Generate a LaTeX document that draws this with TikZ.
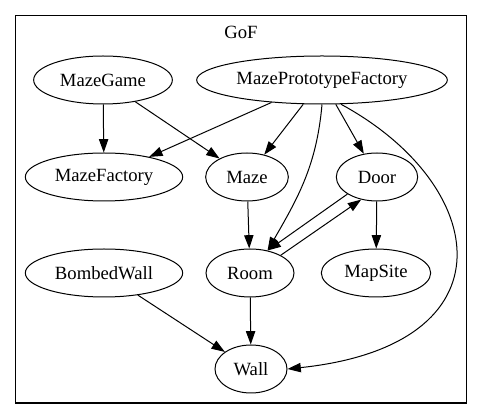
\documentclass[tikz,border=0pt]{standalone}
\usepackage{fontspec}
\setmainfont{Liberation Serif}
\usetikzlibrary{positioning, shapes.geometric, arrows.meta}

\begin{document}
\begin{tikzpicture}[x=0.75pt, y=-0.75pt, cls/.style={draw, ellipse, line width=0.75pt, inner sep=0pt, minimum height=36pt, font=\fontsize{14}{16}\selectfont}, dep/.style={-{Triangle[length=10pt,width=7pt]}, line width=0.75pt}]
	\useasboundingbox (0,0) rectangle (483,420);
	\draw[line width=1pt] (15.5,15.5) rectangle (466.5,403);
	\node[font=\fontsize{14}{16}\selectfont] (gof) at (241,32) {GoF};

	\node[cls, minimum width=104pt] (mazegame) at (103,80) {MazeGame};
	\node[cls, minimum width=188pt] (mpf) at (322,80) {MazePrototypeFactory};
	\node[cls, minimum width=118pt] (mazefactory) at (104,177) {MazeFactory};
	\node[cls, minimum width=62pt] (maze) at (247,177) {Maze};
	\node[cls, minimum width=61pt] (door) at (377,177) {Door};
	\node[cls, minimum width=118pt] (bombedwall) at (104,273) {BombedWall};
	\node[cls, minimum width=66pt] (room) at (250,273) {Room};
	\node[cls, minimum width=82pt] (mapsite) at (376,273) {MapSite};
	\node[cls, minimum width=54pt] (wall) at (251,369) {Wall};

	\draw[dep] (mazegame) -- (mazefactory);
	\draw[dep] (mazegame) -- (maze);
	\draw[dep] (mpf) -- (mazefactory);
	\draw[dep] (mpf) -- (maze);
	\draw[dep] (mpf) -- (door);
	\draw[dep] (mpf.south) to[out=-95, in=60] (room.52);
	\draw[dep] (mpf.-52) .. controls (490,185) and (515,345) .. (wall.east);
	\draw[dep] (maze) -- (room);
	\draw[dep] (door.-150) -- (room.52);
	\draw[dep] (room.30) -- (door.-125);
	\draw[dep] (door) -- (mapsite);
	\draw[dep] (bombedwall) -- (wall);
	\draw[dep] (room) -- (wall);
\end{tikzpicture}
\end{document}
